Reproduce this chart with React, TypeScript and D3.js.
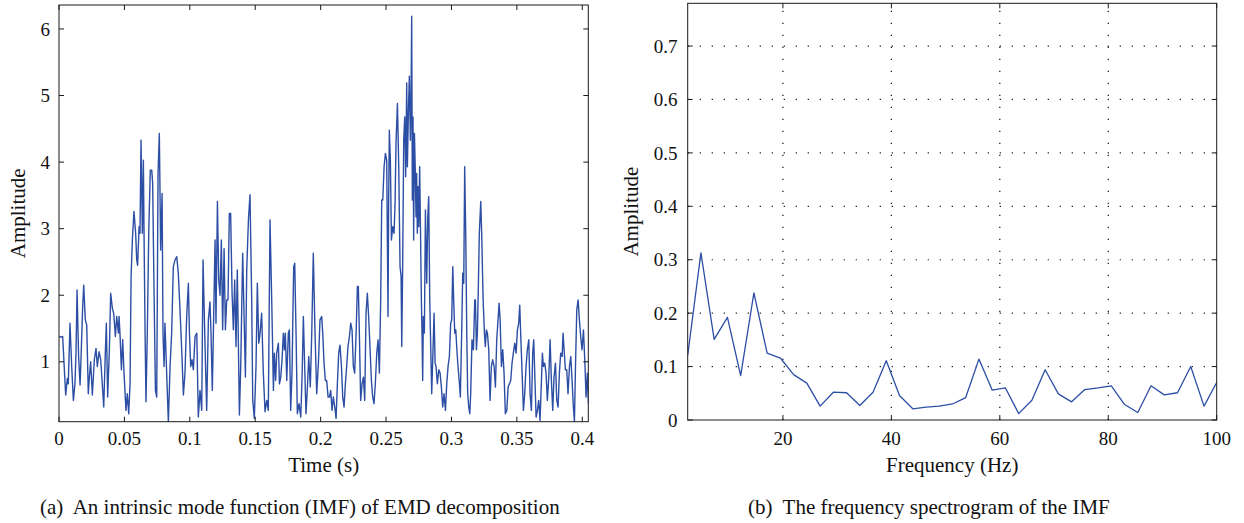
import React from 'react';
import * as d3 from 'd3';

// IMF signal: [time (ms), amplitude]
const IMF_SERIES: [number, number][] = [
  [0, 1.38], [1.5, 1.37], [2.8, 1.38], [5.1, 0.5], [6.4, 0.75], [7.1, 0.67], [8.4, 1.58], [9.7, 0.93], [11.0, 0.42], [12.2, 0.67],
  [13.0, 1.13], [13.8, 2.08], [15.0, 1.08], [16.1, 0.65], [16.8, 1.03], [18.1, 1.83], [18.9, 2.15], [20.1, 1.63], [21.2, 1.55], [22.4, 0.52],
  [23.2, 0.77], [24.2, 1.0], [25.5, 0.5], [27.0, 1.03], [28.3, 1.2], [29.3, 0.93], [30.6, 1.15], [31.9, 1.03], [34.2, 0.32], [35.4, 1.13],
  [36.2, 1.58], [37.2, 0.47], [38.5, 1.18], [39.5, 2.03], [40.8, 1.8], [41.8, 1.73], [43.1, 1.38], [44.1, 1.68], [45.4, 1.43], [45.9, 1.68],
  [46.6, 1.43], [47.7, 0.88], [48.7, 1.33], [49.7, 0.83], [51.2, 0.27], [52.2, 0.52], [53.3, 0.22], [54.3, 0.67], [55.1, 2.28], [56.1, 2.83],
  [57.3, 3.26], [58.6, 2.93], [59.4, 2.53], [60.1, 2.45], [61.2, 3.03], [61.9, 2.93], [62.7, 4.33], [63.7, 2.93], [64.5, 4.03], [65.0, 2.93],
  [65.8, 1.43], [66.5, 0.4], [67.5, 1.43], [68.6, 2.93], [69.8, 3.88], [70.9, 3.88], [71.6, 3.68], [72.4, 2.43], [73.7, 0.57], [74.7, 0.47],
  [75.7, 3.83], [76.7, 4.43], [77.7, 2.68], [78.8, 3.53], [79.5, 1.43], [80.3, 0.93], [81.0, 1.58], [82.3, 0.83], [83.6, 0.1], [84.9, 0.93],
  [86.1, 1.43], [87.4, 2.43], [88.7, 2.53], [90.0, 2.58], [91.2, 2.33], [92.5, 1.78], [93.8, 1.18], [95.1, 0.5], [96.3, 0.83], [97.6, 1.68],
  [98.9, 2.18], [99.7, 1.43], [100.7, 0.93], [101.7, 1.03], [102.7, 0.88], [104.0, 1.38], [105.3, 1.43], [106.5, 0.17], [107.8, 0.57], [109.1, 0.27],
  [110.1, 2.53], [111.4, 1.43], [112.9, 0.27], [114.2, 1.63], [115.4, 1.9], [116.2, 1.43], [117.2, 0.57], [118.0, 1.43], [119.3, 2.83], [120.0, 1.58],
  [121.1, 3.41], [122.1, 2.23], [123.1, 2.0], [124.1, 2.83], [125.1, 1.48], [126.2, 2.7], [127.2, 1.48], [128.2, 1.93], [129.2, 1.93], [130.2, 3.23],
  [131.2, 3.23], [132.3, 2.03], [133.3, 1.48], [134.3, 2.23], [135.3, 1.23], [136.3, 2.38], [137.9, 0.2], [138.9, 0.93], [140.4, 2.63], [142.5, 0.77],
  [143.5, 2.38], [144.8, 3.13], [146.0, 3.51], [147.3, 1.93], [148.1, 0.42], [149.3, 0.15], [150.6, 0.93], [151.6, 2.18], [152.7, 1.28], [153.7, 1.43],
  [154.9, 1.73], [156.2, 0.83], [157.5, 0.25], [158.8, 0.42], [160.0, 0.27], [161.3, 3.13], [162.6, 1.93], [163.9, 0.57], [164.6, 1.13], [165.6, 0.72],
  [166.4, 1.13], [167.7, 1.28], [168.5, 0.67], [169.5, 0.77], [170.5, 1.03], [171.5, 1.43], [172.3, 1.18], [173.0, 1.43], [174.1, 0.72], [175.3, 1.43],
  [176.1, 1.48], [177.1, 0.27], [178.1, 0.83], [179.4, 2.43], [180.2, 2.48], [181.2, 1.43], [182.2, 0.22], [183.5, 0.37], [184.8, 0.17], [185.8, 0.77],
  [186.8, 1.68], [187.8, 0.93], [188.8, 0.22], [189.9, 0.62], [190.9, 1.08], [192.1, 0.62], [193.2, 1.43], [194.4, 2.63], [195.7, 1.43], [197.0, 0.52],
  [198.3, 0.98], [199.5, 1.63], [200.8, 1.68], [201.6, 1.43], [202.6, 0.98], [203.6, 0.72], [204.6, 0.72], [205.7, 0.47], [206.7, 0.47], [207.7, 0.57],
  [208.7, 0.27], [209.7, 0.47], [210.8, 0.32], [211.8, 0.15], [212.8, 0.67], [213.8, 1.13], [214.8, 1.25], [215.9, 0.93], [216.9, 0.47], [217.9, 0.32],
  [218.9, 0.67], [219.9, 0.93], [220.9, 1.23], [222.0, 1.38], [223.0, 1.58], [224.0, 1.48], [225.0, 0.93], [226.0, 0.83], [227.1, 1.43], [228.1, 2.13],
  [228.8, 2.13], [229.6, 1.43], [230.6, 0.42], [231.7, 0.67], [232.7, 0.77], [233.7, 0.42], [234.7, 1.73], [235.7, 2.03], [236.7, 1.68], [237.8, 1.18],
  [238.8, 0.72], [239.8, 0.47], [240.8, 0.37], [241.8, 0.67], [242.9, 1.13], [243.9, 1.33], [244.9, 0.83], [245.9, 1.93], [246.7, 3.43], [247.5, 3.43],
  [248.5, 3.93], [249.5, 4.13], [250.5, 4.03], [251.5, 1.68], [252.0, 3.43], [252.5, 4.48], [253.3, 4.03], [254.1, 2.83], [255.1, 3.03], [256.1, 2.93],
  [256.9, 3.38], [257.6, 4.28], [258.7, 4.88], [259.7, 3.93], [260.7, 2.43], [261.5, 2.28], [262.0, 1.23], [262.7, 2.43], [263.5, 4.33], [264.3, 4.68],
  [265.0, 3.78], [265.8, 5.19], [266.3, 3.93], [267.1, 4.78], [267.8, 5.29], [268.6, 4.33], [269.1, 4.93], [269.6, 6.19], [270.1, 3.43], [270.6, 4.68],
  [271.1, 2.83], [271.7, 4.43], [272.4, 3.83], [272.9, 3.18], [273.4, 3.83], [273.9, 2.93], [274.5, 3.63], [275.0, 3.03], [275.7, 3.93], [276.2, 3.18],
  [277.0, 1.93], [277.5, 1.43], [278.0, 0.72], [278.5, 1.68], [279.3, 1.43], [280.1, 3.28], [281.1, 2.18], [281.9, 3.18], [282.6, 3.48], [283.4, 1.93],
  [284.2, 1.18], [284.9, 0.52], [285.9, 1.18], [286.7, 1.73], [287.5, 0.98], [288.2, 0.93], [289.2, 0.67], [290.3, 0.88], [291.3, 0.83], [292.3, 0.62],
  [293.3, 0.32], [294.3, 0.52], [295.4, 0.27], [296.4, 0.67], [297.4, 0.93], [298.4, 1.08], [299.4, 1.58], [300.2, 1.63], [301.0, 2.43], [301.7, 1.93],
  [302.5, 1.43], [303.3, 1.48], [304.0, 1.23], [305.0, 0.93], [306.1, 0.67], [306.8, 0.47], [307.8, 1.43], [308.6, 2.33], [309.4, 2.18], [310.1, 3.93],
  [310.9, 2.93], [311.7, 1.43], [312.4, 0.52], [313.2, 0.32], [314.0, 0.22], [314.7, 0.52], [315.7, 1.33], [316.8, 1.18], [317.8, 1.93], [318.3, 1.93],
  [319.1, 1.18], [319.8, 1.43], [320.6, 2.18], [321.3, 2.93], [322.4, 3.41], [323.1, 2.93], [324.2, 1.93], [325.2, 1.43], [325.9, 1.23], [326.7, 1.48],
  [327.5, 1.43], [328.5, 1.18], [329.5, 0.42], [330.5, 0.93], [331.5, 1.03], [332.6, 0.93], [333.6, 0.62], [334.6, 1.33], [335.6, 1.63], [336.4, 1.88],
  [337.2, 1.63], [338.2, 0.93], [339.2, 1.18], [340.2, 0.83], [341.2, 0.22], [342.3, 0.27], [343.3, 0.62], [344.3, 0.67], [345.3, 0.72], [346.3, 0.98],
  [347.3, 1.13], [348.4, 1.28], [349.4, 1.13], [350.4, 1.48], [351.4, 1.58], [352.2, 1.85], [352.9, 1.43], [354.0, 0.83], [355.0, 0.27], [356.0, 0.52],
  [357.0, 0.93], [358.0, 1.18], [359.1, 1.33], [360.1, 0.52], [361.1, 0.27], [362.1, 1.13], [362.9, 1.33], [363.9, 0.67], [364.7, 0.17], [365.7, 0.27],
  [366.7, 0.42], [367.7, 0.12], [368.7, 0.67], [369.5, 1.13], [370.3, 0.93], [371.3, 0.98], [372.3, 0.83], [373.3, 0.42], [374.4, 0.77], [375.4, 1.33],
  [376.4, 0.72], [377.4, 0.27], [378.4, 0.77], [379.5, 0.98], [380.5, 0.42], [381.5, 0.32], [382.5, 0.83], [383.5, 1.13], [384.6, 1.08], [385.3, 1.43],
  [386.1, 1.18], [387.1, 0.88], [388.1, 0.88], [389.1, 0.52], [390.2, 0.93], [391.2, 1.08], [392.2, 0.72], [393.2, 0.32], [394.0, 0.1], [394.8, 0.93],
  [395.8, 1.78], [396.8, 1.93], [397.8, 1.63], [398.8, 1.38], [399.8, 1.18], [400.9, 1.48], [401.9, 1.03], [402.9, 0.47], [403.9, 0.83], [404.7, 0.37],
];

// Spectrum
const SPEC_FREQ = [
  2.44, 4.88, 7.32, 9.77, 12.21, 14.65, 17.09, 19.53, 21.97, 24.41, 26.86, 29.3, 31.74, 34.18, 36.62, 39.06, 41.5, 43.95, 46.39, 48.83,
  51.27, 53.71, 56.15, 58.59, 61.04, 63.48, 65.92, 68.36, 70.8, 73.24, 75.68, 78.13, 80.57, 83.01, 85.45, 87.89, 90.33, 92.77, 95.21, 97.66, 100.1,
];
const SPEC_AMP = [
  0.121, 0.313, 0.151, 0.192, 0.083, 0.238, 0.125, 0.116, 0.085, 0.069, 0.026, 0.052, 0.051, 0.027, 0.052, 0.111, 0.046, 0.021, 0.024, 0.026,
  0.03, 0.042, 0.114, 0.056, 0.06, 0.012, 0.037, 0.094, 0.049, 0.034, 0.057, 0.06, 0.064, 0.029, 0.014, 0.064, 0.047, 0.051, 0.1, 0.026, 0.072,
];

const IMF_X_TICKS = [0, 50, 100, 150, 200, 250, 300, 350, 400];
const IMF_X_LABELS = ['0', '0.05', '0.1', '0.15', '0.2', '0.25', '0.3', '0.35', '0.4'];
const IMF_Y_TICKS = [1, 2, 3, 4, 5, 6];
const IMF_Y_LABELS = ['1', '2', '3', '4', '5', '6'];
const SPEC_X_TICKS = [20, 40, 60, 80, 100];
const SPEC_X_LABELS = ['20', '40', '60', '80', '100'];
const SPEC_Y_TICKS = [0, 0.1, 0.2, 0.3, 0.4, 0.5, 0.6, 0.7];
const SPEC_Y_LABELS = ['0', '0.1', '0.2', '0.3', '0.4', '0.5', '0.6', '0.7'];

const FONT = "'Liberation Serif', 'DejaVu Serif', serif";
const LINE = '#2c4ea4';
const AXIS = '#1a1a1a';

export default function App() {
  const W = 1244, H = 523;
  const A = { x0: 59, x1: 588.3, y0: 5, y1: 421.7 };
  const B = { x0: 687.7, x1: 1216.7, y0: 3.3, y1: 420 };

  const xA = d3.scaleLinear().domain([0, 404.6]).range([A.x0, A.x1]);
  const yA = d3.scaleLinear().domain([0.1, 6.36]).range([A.y1, A.y0]);
  const xB = d3.scaleLinear().domain([2.44, 100]).range([B.x0, B.x1]);
  const yB = d3.scaleLinear().domain([0, 0.78]).range([B.y1, B.y0]);

  const lineA = d3.line<[number, number]>().x(d => xA(d[0])).y(d => yA(d[1]));
  const specPts = SPEC_FREQ.map((f, i) => [f, SPEC_AMP[i]] as [number, number]);
  const lineB = d3.line<[number, number]>().x(d => xB(d[0])).y(d => yB(d[1]));

  const tl = 5;
  const tickSize = 19;
  const labelSize = 21;

  return (
    <svg width={W} height={H} style={{ position: 'absolute', left: 0, top: 0, background: '#fff' }} fontFamily={FONT}>
      <defs>
        <clipPath id="clipA"><rect x={A.x0} y={A.y0} width={A.x1 - A.x0} height={A.y1 - A.y0} /></clipPath>
        <clipPath id="clipB"><rect x={B.x0} y={B.y0} width={B.x1 - B.x0} height={B.y1 - B.y0} /></clipPath>
      </defs>
      <rect width={W} height={H} fill="#fff" />

      {/* Left panel */}
      <path d={lineA(IMF_SERIES) || ''} fill="none" stroke={LINE} strokeWidth={1.4} strokeLinejoin="round" clipPath="url(#clipA)" />
      <rect x={A.x0} y={A.y0} width={A.x1 - A.x0} height={A.y1 - A.y0} fill="none" stroke={AXIS} strokeWidth={1} />
      {IMF_X_TICKS.map((t, i) => (
        <g key={'ax' + i}>
          <line x1={xA(t)} x2={xA(t)} y1={A.y1} y2={A.y1 - tl} stroke={AXIS} />
          <line x1={xA(t)} x2={xA(t)} y1={A.y0} y2={A.y0 + tl} stroke={AXIS} />
          <text x={xA(t)} y={445} fontSize={tickSize} textAnchor="middle" fill="#111">{IMF_X_LABELS[i]}</text>
        </g>
      ))}
      {IMF_Y_TICKS.map((t, i) => (
        <g key={'ay' + i}>
          <line x1={A.x0} x2={A.x0 + tl} y1={yA(t)} y2={yA(t)} stroke={AXIS} />
          <line x1={A.x1} x2={A.x1 - tl} y1={yA(t)} y2={yA(t)} stroke={AXIS} />
          <text x={50} y={yA(t)} dy="0.35em" fontSize={tickSize} textAnchor="end" fill="#111">{IMF_Y_LABELS[i]}</text>
        </g>
      ))}
      <text x={(A.x0 + A.x1) / 2} y={472} fontSize={labelSize} textAnchor="middle" fill="#111">Time (s)</text>
      <text transform={`translate(25,${(A.y0 + A.y1) / 2}) rotate(-90)`} fontSize={labelSize} textAnchor="middle" fill="#111">Amplitude</text>
      <text x={40} y={514} fontSize={21} fill="#111" style={{ whiteSpace: 'pre' }}>{'(a)  An intrinsic mode function (IMF) of EMD decomposition'}</text>

      {/* Right panel */}
      {SPEC_Y_TICKS.filter(t => t > 0).map((t, i) => (
        <line key={'gy' + i} x1={B.x0} x2={B.x1} y1={yB(t)} y2={yB(t)} stroke="#111" strokeWidth={1.2} strokeDasharray="1.2,10.8" />
      ))}
      {SPEC_X_TICKS.filter(t => t < 100).map((t, i) => (
        <line key={'gx' + i} x1={xB(t)} x2={xB(t)} y1={B.y1} y2={B.y0} stroke="#111" strokeWidth={1.2} strokeDasharray="1.2,10.8" />
      ))}
      <path d={lineB(specPts) || ''} fill="none" stroke={LINE} strokeWidth={1.3} strokeLinejoin="round" clipPath="url(#clipB)" />
      <rect x={B.x0} y={B.y0} width={B.x1 - B.x0} height={B.y1 - B.y0} fill="none" stroke={AXIS} strokeWidth={1} />
      {SPEC_X_TICKS.map((t, i) => (
        <g key={'bx' + i}>
          <line x1={xB(t)} x2={xB(t)} y1={B.y1} y2={B.y1 - tl} stroke={AXIS} />
          <line x1={xB(t)} x2={xB(t)} y1={B.y0} y2={B.y0 + tl} stroke={AXIS} />
          <text x={xB(t)} y={445} fontSize={tickSize} textAnchor="middle" fill="#111">{SPEC_X_LABELS[i]}</text>
        </g>
      ))}
      {SPEC_Y_TICKS.map((t, i) => (
        <g key={'by' + i}>
          <line x1={B.x0} x2={B.x0 + tl} y1={yB(t)} y2={yB(t)} stroke={AXIS} />
          <line x1={B.x1} x2={B.x1 - tl} y1={yB(t)} y2={yB(t)} stroke={AXIS} />
          <text x={677.5} y={yB(t)} dy="0.35em" fontSize={tickSize} textAnchor="end" fill="#111">{SPEC_Y_LABELS[i]}</text>
        </g>
      ))}
      <text x={(B.x0 + B.x1) / 2} y={472} fontSize={labelSize} textAnchor="middle" fill="#111">Frequency (Hz)</text>
      <text transform={`translate(638,${(B.y0 + B.y1) / 2}) rotate(-90)`} fontSize={labelSize} textAnchor="middle" fill="#111">Amplitude</text>
      <text x={748} y={514} fontSize={21} fill="#111" style={{ whiteSpace: 'pre' }}>{'(b)  The frequency spectrogram of the IMF'}</text>
    </svg>
  );
}
